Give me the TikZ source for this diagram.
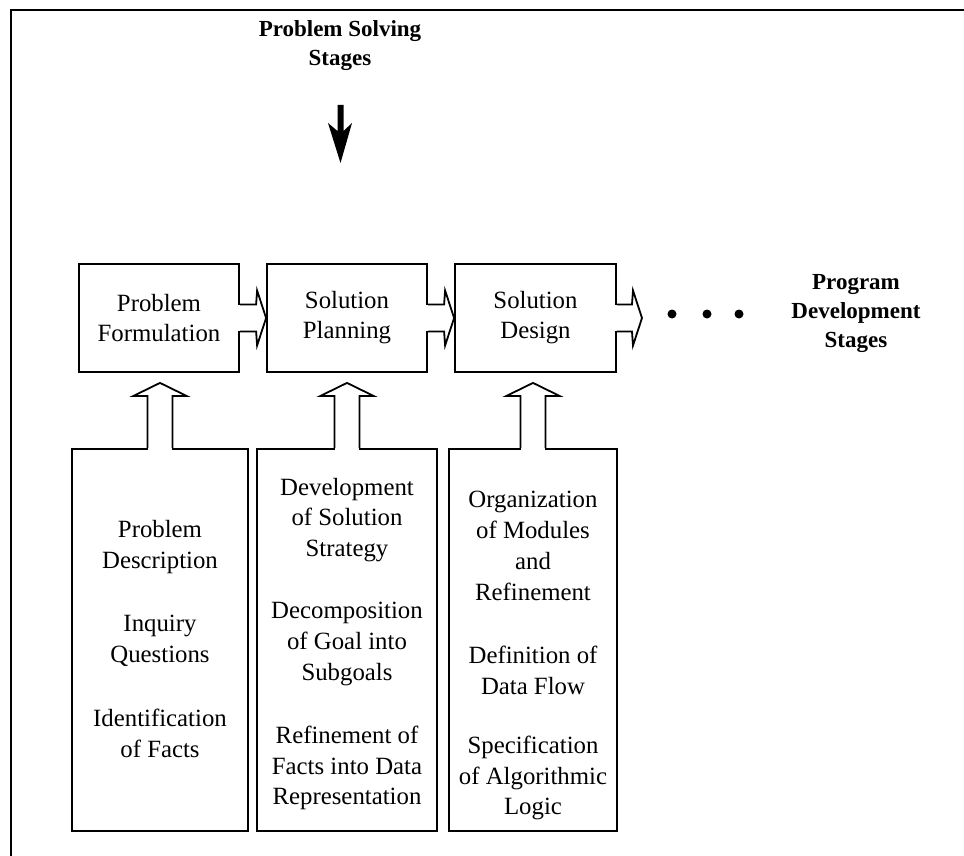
\documentclass[tikz,border=0pt]{standalone}
\usepackage{fontspec}
\setmainfont{Liberation Serif}
\usetikzlibrary{calc}

% open block arrow from a box's right side to a tip point
\newcommand\flowarrow[2]{%
  \path[fill=white] let \p1=(#1.east) in
    (\x1-1pt,\y1+6.3pt) rectangle (\x1+1pt,\y1-6.3pt);
  \draw[outline] let \p1=(#1.east), \p2=(#2) in
    (\x1,\y1+6.75pt) -- (\x2-5pt,\y1+6.75pt) -- (\x2-4.5pt,\y1+13.75pt)
    -- (\x2,\y1) -- (\x2-4.5pt,\y1-13.75pt) -- (\x2-5pt,\y1-6.75pt)
    -- (\x1,\y1-6.75pt);
}
% open block arrow from a detail box up towards its stage box
\newcommand\feedarrow[2]{%
  \path[fill=white] let \p1=(#1.north) in
    (\x1-5.8pt,\y1-1pt) rectangle (\x1+5.8pt,\y1+1pt);
  \draw[outline] let \p1=(#1.north), \p2=(#2.south) in
    (\x1-6.25pt,\y1) -- (\x1-6.25pt,\y2-11.5pt) -- (\x1-13.25pt,\y2-11.5pt)
    -- (\x1,\y2-5pt) -- (\x1+13.25pt,\y2-11.5pt) -- (\x1+6.25pt,\y2-11.5pt)
    -- (\x1+6.25pt,\y1);
}

\begin{document}
\begin{tikzpicture}[x=0.5pt,y=-0.5pt,
  frame/.style={line width=1pt},
  outline/.style={line width=0.9pt, line join=miter},
  stage/.style={draw, line width=0.9pt, minimum width=80pt, minimum height=54pt,
    inner sep=0pt, align=center, font=\fontsize{12.4}{15}\selectfont},
  detail/.style={draw, line width=0.9pt, minimum height=191pt, inner sep=0pt},
  txt/.style={align=center, inner sep=0pt, font=\fontsize{12.4}{15.4}\selectfont},
  heading/.style={align=center, inner sep=0pt, font=\bfseries\fontsize{11.5}{14.5}\selectfont},
  dot/.style={circle, fill, inner sep=0pt, minimum size=4.5pt}]

\useasboundingbox (0,0) rectangle (964,856);

% outer frame (left and top sides)
\coordinate (fa) at (11,856);
\coordinate (fb) at (11,10);
\coordinate (fc) at (964,10);
\draw[frame] (fa) -- (fb) -- (fc);

% heading and downward arrow
\node[heading] (pss) at (340,46) {Problem Solving\\Stages};
\fill (337.5,105) -- (343.5,105) -- (343.5,131) -- (352,123) -- (340.5,163)
  -- (328,123) -- (337.5,131) -- cycle;

% stage boxes
\node[stage] (pf) at (159,318) {Problem\\Formulation};
\node[stage] (sp) at (347,318) {Solution\\Planning};
\node[stage, minimum width=80.5pt] (sd) at (535.5,318) {Solution\\Design};

% detail boxes
\node[detail, minimum width=88pt] (pfd) at (160,640) {};
\node[detail, minimum width=90pt] (spd) at (347,640) {};
\node[detail, minimum width=84pt] (sdd) at (533,640) {};

% arrows between stages
\coordinate (tip) at (642,318);
\flowarrow{pf}{sp.west}
\flowarrow{sp}{sd.west}
\flowarrow{sd}{tip}

% arrows from details to stages
\feedarrow{pfd}{pf}
\feedarrow{spd}{sp}
\feedarrow{sdd}{sd}

% continuation dots and label
\node[dot] (d1) at (672,314) {};
\node[dot] (d2) at (707,314) {};
\node[dot] (d3) at (739,314) {};
\node[heading] (pds) at (856,314) {Program\\Development\\Stages};

% detail texts
\node[txt] (a1) at (160,547) {Problem\\Description};
\node[txt] (a2) at (160,641) {Inquiry\\Questions};
\node[txt] (a3) at (160,733) {Identification\\of Facts};

\node[txt] (b1) at (347,520) {Development\\of Solution\\Strategy};
\node[txt] (b2) at (347,644) {Decomposition\\of Goal into\\Subgoals};
\node[txt] (b3) at (347,768) {Refinement of\\Facts into Data\\Representation};

\node[txt] (c1) at (533,546) {Organization\\of Modules\\and\\Refinement};
\node[txt] (c2) at (533,670) {Definition of\\Data Flow};
\node[txt] (c3) at (533,778) {Specification\\of Algorithmic\\Logic};
\end{tikzpicture}
\end{document}
